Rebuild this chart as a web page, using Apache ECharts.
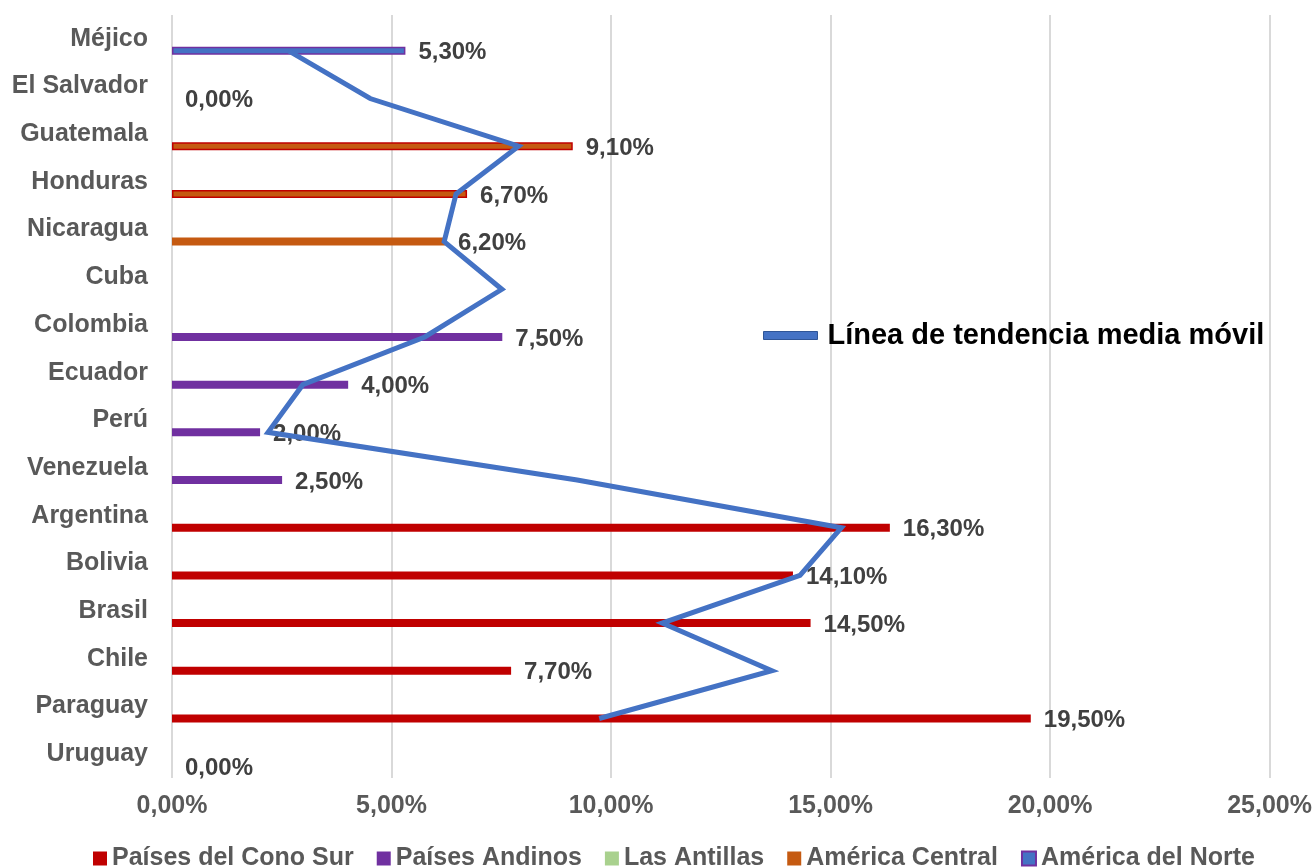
<!DOCTYPE html>
<html>
<head>
<meta charset="utf-8">
<script src="https://cdn.jsdelivr.net/npm/echarts@6/dist/echarts.min.js"></script>
<style>
html,body{margin:0;padding:0;background:#fff;}
#chart{width:1315px;height:868px;}
</style>
</head>
<body>
<div id="chart"></div>
<script>
const categories = ['Méjico','El Salvador','Guatemala','Honduras','Nicaragua','Cuba','Colombia','Ecuador','Perú','Venezuela','Argentina','Bolivia','Brasil','Chile','Paraguay','Uruguay'];
const conoSur   = [null,null,null,null,null,null,null,null,null,null,16.3,14.1,14.5,7.7,19.5,0];
const andinos   = [null,null,null,null,null,null,7.5,4.0,2.0,2.5,null,null,null,null,null,null];
const antillas  = [null,null,null,null,null,null,null,null,null,null,null,null,null,null,null,null];
const central   = [null,0,9.1,6.7,6.2,null,null,null,null,null,null,null,null,null,null,null];
const norte     = [5.3,null,null,null,null,null,null,null,null,null,null,null,null,null,null,null];
const mediaMovil = [2.65,4.5,7.87,6.45,6.18,7.49,5.74,2.97,2.18,9.2,15.2,14.26,11.13,13.62,9.7,null];
const xTicks = [0,5,10,15,20,25];

const fmt = v => Number(v).toFixed(2).replace('.', ',') + '%';
const FONT = 'Liberation Sans, Arial, sans-serif';
const labelCfg = {
  show: true, position: 'right', distance: 13, offset: [0, 2],
  formatter: p => fmt(p.value),
  color: '#404040', fontFamily: FONT, fontWeight: 'bold', fontSize: 24
};
function barSeries(name, data, color, extra) {
  return Object.assign({
    name, type: 'bar', xAxisIndex: 1, yAxisIndex: 1,
    data, barWidth: 8, barGap: '-100%',
    itemStyle: { color },
    label: labelCfg
  }, extra || {});
}
const centralData = central.map((v, i) => (i === 2 || i === 3) && v != null
  ? { value: v, itemStyle: { borderColor: '#C00000', borderWidth: 1.5 } } : v);

const chart = echarts.init(document.getElementById('chart'), null, { renderer: 'canvas' });
chart.setOption({
  animation: false,
  backgroundColor: '#ffffff',
  grid: [
    { left: 172, right: 42, top: 15, height: 763 },
    { left: 172, right: 42, top: 27, height: 763 }
  ],
  xAxis: [
    { gridIndex: 0, type: 'value', min: 0, max: 25, interval: 5,
      axisLine: { show: false }, axisTick: { show: false },
      splitLine: { show: true, lineStyle: { color: '#d9d9d9', width: 2 } },
      axisLabel: { margin: 16, formatter: v => fmt(v), color: '#595959', fontFamily: FONT, fontWeight: 'bold', fontSize: 25 } },
    { gridIndex: 1, type: 'value', min: 0, max: 25, interval: 5, show: false,
      splitLine: { show: false } }
  ],
  yAxis: [
    { gridIndex: 0, type: 'category', data: categories, inverse: true,
      axisLine: { show: false }, axisTick: { show: false }, splitLine: { show: false },
      axisLabel: { margin: 24, padding: [6, 0, 0, 0], color: '#595959', fontFamily: FONT, fontWeight: 'bold', fontSize: 25 } },
    { gridIndex: 1, type: 'category', data: categories, inverse: true, show: false }
  ],
  legend: [
    { data: ['Países del Cono Sur','Países Andinos','Las Antillas','América Central','América del Norte'],
      left: 88, top: 841, itemWidth: 14, itemHeight: 14, itemGap: 23, icon: 'rect',
      textStyle: { color: '#595959', fontFamily: FONT, fontWeight: 'bold', fontSize: 25 } },
    { data: [{ name: 'Línea de tendencia media móvil', icon: 'rect',
               itemStyle: { color: '#4472C4', borderColor: '#2F5597', borderWidth: 1 } }],
      left: 758, top: 316, itemWidth: 54, itemHeight: 8,
      textStyle: { color: '#000000', fontFamily: FONT, fontWeight: 'bold', fontSize: 29, padding: [0,0,0,5] } }
  ],
  series: [
    barSeries('Países del Cono Sur', conoSur, '#C00000'),
    barSeries('Países Andinos', andinos, '#7030A0'),
    barSeries('Las Antillas', antillas, '#A9D18E'),
    barSeries('América Central', centralData, '#C55A11'),
    barSeries('América del Norte', norte, '#4472C4', {
      itemStyle: { color: '#4472C4', borderColor: '#7030A0', borderWidth: 1.5 } }),
    { name: 'Línea de tendencia media móvil', type: 'line', xAxisIndex: 1, yAxisIndex: 1,
      data: mediaMovil, showSymbol: false, symbol: 'none', smooth: false, z: 5,
      lineStyle: { color: '#4472C4', width: 5, join: 'miter' },
      itemStyle: { color: '#4472C4' } }
  ]
});
</script>
</body>
</html>
